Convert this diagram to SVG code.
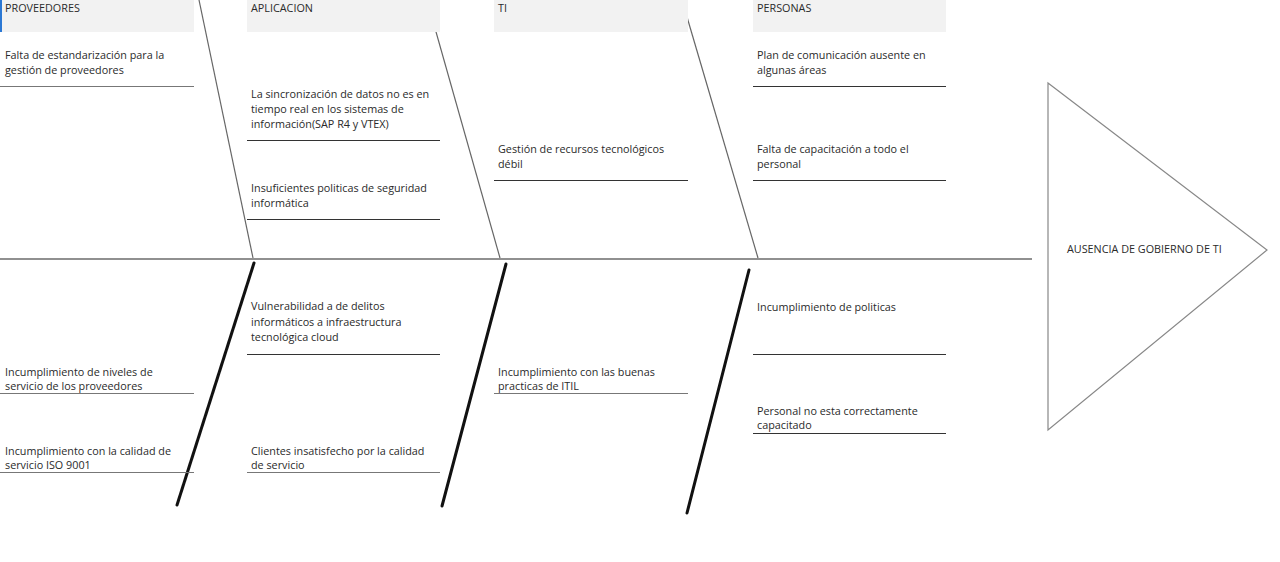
<svg xmlns="http://www.w3.org/2000/svg" width="1280" height="562" viewBox="0 0 1280 562">
<style>
text{font-family:"Open Sans","Noto Sans",sans-serif;font-size:10.8px;fill:#2a2a2a}
.hdr{fill:#f2f2f2;stroke:none}
.ul{stroke:#333;stroke-width:1.2}
.ulg{stroke:#777;stroke-width:1.2}
.bone{stroke:#666;stroke-width:1.2;fill:none}
.thick{stroke:#111;stroke-width:3;fill:none;stroke-linecap:round}
</style>
<rect width="1280" height="562" fill="#fff"/>
<g id="connectors">
<line x1="0" y1="259" x2="1032" y2="259" stroke="#222" stroke-width="1.2"/>
<line class="bone" x1="199" y1="0" x2="253" y2="258"/>
<line class="bone" x1="427" y1="0" x2="500" y2="258"/>
<line class="bone" x1="687" y1="17" x2="758" y2="258"/>
<line class="thick" x1="254" y1="263" x2="177" y2="505"/>
<line class="thick" x1="506" y1="264" x2="442" y2="506"/>
<line class="thick" x1="749" y1="270" x2="687" y2="513"/>
</g>
<g id="hdr-proveedores">
<rect class="hdr" x="0" y="0" width="194" height="32"/>
<rect x="0" y="0" width="2" height="32" fill="#2b78d4"/>
<text x="5" y="12">PROVEEDORES</text>
</g>
<g id="hdr-aplicacion">
<rect class="hdr" x="247" y="0" width="193" height="32"/>
<text x="251" y="12">APLICACION</text>
</g>
<g id="hdr-ti">
<rect class="hdr" x="494" y="0" width="194" height="32"/>
<text x="498" y="12">TI</text>
</g>
<g id="hdr-personas">
<rect class="hdr" x="753" y="0" width="193" height="32"/>
<text x="757" y="12">PERSONAS</text>
</g>
<g id="c1">
<text x="5" y="59">Falta de estandarización para la</text>
<text x="5" y="74">gestión de proveedores</text>
<line class="ulg" x1="0" y1="86.5" x2="194" y2="86.5"/>
</g>
<g id="c2">
<text x="251" y="98">La sincronización de datos no es en</text>
<text x="251" y="113">tiempo real en los sistemas de</text>
<text x="251" y="128">información(SAP R4 y VTEX)</text>
<line class="ul" x1="247" y1="140.5" x2="440" y2="140.5"/>
</g>
<g id="c3">
<text x="251" y="192">Insuficientes politicas de seguridad</text>
<text x="251" y="207">informática</text>
<line class="ul" x1="247" y1="219.5" x2="440" y2="219.5"/>
</g>
<g id="c4">
<text x="498" y="153">Gestión de recursos tecnológicos</text>
<text x="498" y="168">débil</text>
<line class="ul" x1="494" y1="180.5" x2="688" y2="180.5"/>
</g>
<g id="c5">
<text x="757" y="59">Plan de comunicación ausente en</text>
<text x="757" y="74">algunas áreas</text>
<line class="ul" x1="753" y1="86.5" x2="946" y2="86.5"/>
</g>
<g id="c6">
<text x="757" y="153">Falta de capacitación a todo el</text>
<text x="757" y="168">personal</text>
<line class="ul" x1="753" y1="180.5" x2="946" y2="180.5"/>
</g>
<g id="c7">
<text x="5" y="376">Incumplimiento de niveles de</text>
<text x="5" y="390">servicio de los proveedores</text>
<line class="ulg" x1="0" y1="393.5" x2="194" y2="393.5"/>
</g>
<g id="c8">
<text x="5" y="455">Incumplimiento con la calidad de</text>
<text x="5" y="469">servicio ISO 9001</text>
<line class="ulg" x1="0" y1="472.5" x2="194" y2="472.5"/>
</g>
<g id="c9">
<text x="251" y="310">Vulnerabilidad a de delitos</text>
<text x="251" y="326">informáticos a infraestructura</text>
<text x="251" y="341">tecnológica cloud</text>
<line class="ul" x1="247" y1="354.5" x2="440" y2="354.5"/>
</g>
<g id="c10">
<text x="251" y="455">Clientes insatisfecho por la calidad</text>
<text x="251" y="469">de servicio</text>
<line class="ulg" x1="247" y1="472.5" x2="440" y2="472.5"/>
</g>
<g id="c11">
<text x="498" y="376">Incumplimiento con las buenas</text>
<text x="498" y="390">practicas de ITIL</text>
<line class="ulg" x1="494" y1="393.5" x2="688" y2="393.5"/>
</g>
<g id="c12">
<text x="757" y="311">Incumplimiento de politicas</text>
<line class="ul" x1="753" y1="354.5" x2="946" y2="354.5"/>
</g>
<g id="c13">
<text x="757" y="415">Personal no esta correctamente</text>
<text x="757" y="429">capacitado</text>
<line class="ul" x1="753" y1="433.5" x2="946" y2="433.5"/>
</g>
<g id="effect">
<polygon points="1048,83 1267,250 1048,430" fill="#fff" stroke="#888" stroke-width="1.2"/>
<text x="1067" y="253">AUSENCIA DE GOBIERNO DE TI</text>
</g>
</svg>
